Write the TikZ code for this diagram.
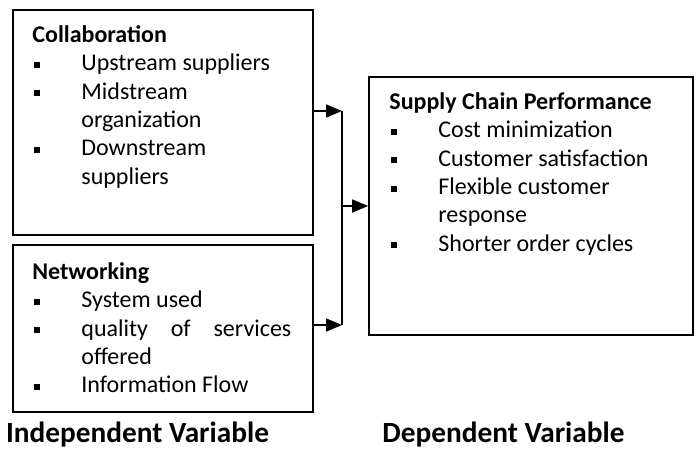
\documentclass[tikz,border=0pt]{standalone}
\usepackage{fontspec}
\setmainfont{Carlito}
\usepackage{tikz}
\usetikzlibrary{arrows.meta,positioning}

\newcommand{\sqb}{\makebox[49pt][l]{\hspace{2pt}\rule[3pt]{6pt}{6pt}}}
\newcommand{\ind}{\hspace*{49pt}}

\begin{document}
\begin{tikzpicture}[x=1pt,y=-1pt,
        box/.style={draw,line width=1.6pt,inner sep=0pt},
        list/.style={anchor=north west,inner sep=0pt,align=left,font=\fontsize{24}{28.4}\selectfont},
        flow/.style={line width=1.6pt,-{Triangle[length=16pt,width=13pt]}},
        title/.style={font=\bfseries\fontsize{29.3}{34}\selectfont,inner sep=0pt}]
        \useasboundingbox (0,0) rectangle (696,449);
        \node[box,minimum width=300pt,minimum height=225pt] (COL) at (163,122.5) {};
        \node[box,minimum width=300pt,minimum height=167pt] (NET) at ([shift={+(0,206)}]COL) {};
        \node[box,minimum width=324pt,minimum height=258pt] (SCP) at (531,206) {};
        \node[list] (COLtxt) at ([shift={+(20,13.1)}]COL.north west) {\strut\textbf{Collaboration}\\
            \sqb Upstream suppliers\\
            \sqb Midstream\\
            \ind organization\\
            \sqb Downstream\\
            \ind suppliers};
        \node[list] (NETtxt) at ([shift={+(20,15.1)}]NET.north west) {\strut\textbf{Networking}\\
            \sqb System used\\
            \sqb \hbox to 210pt{quality\hfill of\hfill services}\\
            \ind offered\\
            \sqb Information Flow};
        \node[list] (SCPtxt) at ([shift={+(21,13.1)}]SCP.north west) {\strut\textbf{Supply Chain Performance}\\
            \sqb Cost minimization\\
            \sqb Customer satisfaction\\
            \sqb Flexible customer\\
            \ind response\\
            \sqb Shorter order cycles};
        \node[title] (IV) at (137.5,435) {Independent Variable};
        \node[title] (DV) at (503.5,435) {Dependent Variable};
        \coordinate (UP) at (342,111);
        \coordinate (LO) at (342,325);
        \coordinate (MID) at (342,206);
        \draw[flow] (COL.east |- UP) -- (UP);
        \draw[flow] (NET.east |- LO) -- (LO);
        \draw[line width=1.6pt] (UP) -- (LO);
        \draw[flow] (MID) -- (SCP.west);
    \end{tikzpicture}
\end{document}
